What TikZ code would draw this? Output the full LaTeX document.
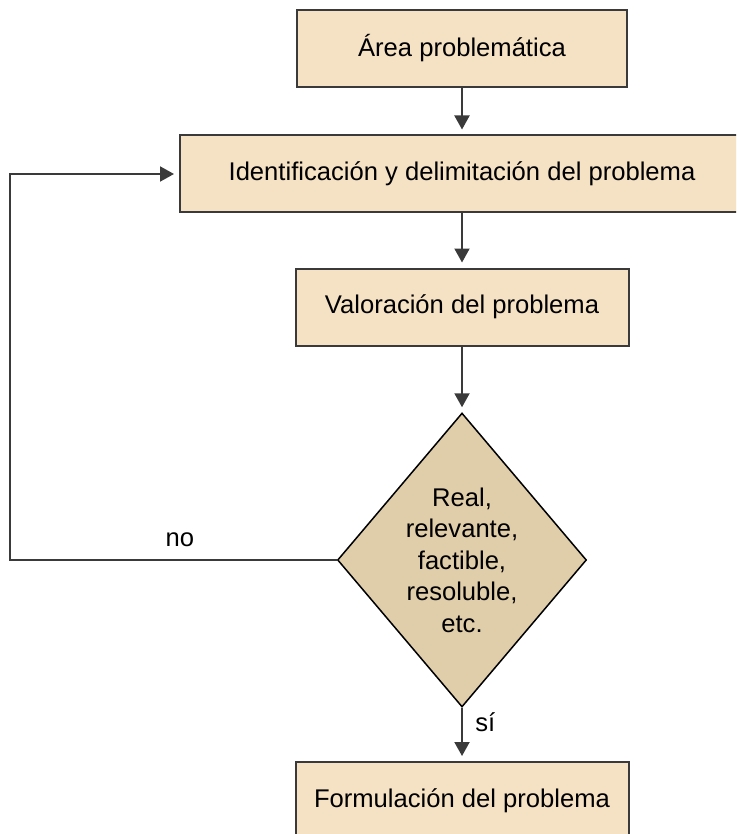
\documentclass[tikz,border=0pt]{standalone}
\usepackage{fontspec}
\setmainfont{Liberation Sans}
\usepackage{xcolor}
\usetikzlibrary{shapes.geometric,arrows.meta,positioning}

\definecolor{boxfill}{HTML}{F5E1C3}
\definecolor{decfill}{HTML}{E0CDA9}
\definecolor{edge}{HTML}{3A3A3A}

\begin{document}
\begin{tikzpicture}[node distance=125.5pt, auto,
    >={Triangle[length=14pt,width=15pt]},
    every node/.style={font=\fontsize{25.6}{31.5}\selectfont},
    box/.style={draw=edge, line width=2pt, rectangle, fill=boxfill,
        minimum height=77pt, inner sep=0pt},
    decision/.style={draw=black, line width=1.5pt, diamond, fill=decfill,
        minimum width=249pt, minimum height=294pt, inner sep=0pt,
        aspect=0.85, align=center},
    link/.style={draw=edge, line width=2pt, ->, shorten >=5pt}]
    \useasboundingbox (0,0) rectangle (736pt,-834pt);
    \clip (0,0) rectangle (736pt,-834pt);

    \node[box, minimum width=330pt] (area) at (462pt,-48.5pt) {Área problemática};
    \node[box, minimum width=564pt, below of=area] (ident) {Identificación y delimitación del problema};
    \node[box, minimum width=333pt, below of=ident, node distance=133pt] (valor) {Valoración del problema};
    \node[decision, below of=valor, node distance=253pt] (check) {Real,\\relevante,\\factible,\\resoluble,\\etc.};
    \node[box, minimum width=333pt, minimum height=78pt, below of=check, node distance=241pt] (formul) {Formulación del problema};
    \coordinate (back) at (10pt,-560pt);

    \draw[link] (area) -- (ident);
    \draw[link] (ident) -- (valor);
    \draw[link] (valor) -- (check);
    \draw[link] (check) -- node[right=9pt, pos=0.27] {sí} (formul);
    \draw[link] (check.west) -- node[above=9pt, pos=0.48] {no} (back) |- (ident.west);
\end{tikzpicture}
\end{document}
